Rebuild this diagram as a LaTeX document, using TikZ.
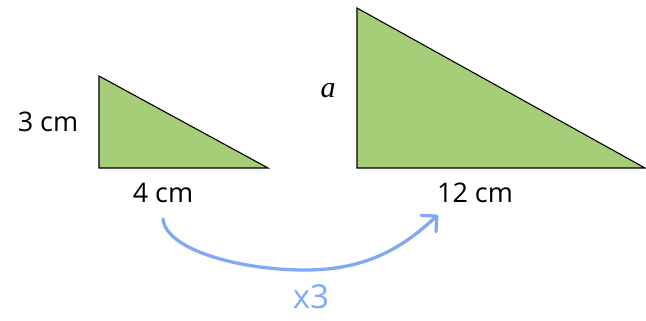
\documentclass[tikz,border=0pt]{standalone}
\usepackage{fontspec}
\setmainfont{Open Sans}
\newfontfamily\varfont{Liberation Serif}
\usepackage{xcolor}
\usepackage{tikz}
\usetikzlibrary{arrows.meta,calc,positioning}
\definecolor{trigreen}{HTML}{A6CD78}
\definecolor{penblue}{HTML}{7FA9F7}

\begin{document}
\begin{tikzpicture}[x=1pt, y=-1pt,
    tri/.style={draw=black, fill=trigreen, line width=1.1pt, line join=miter},
    lbl/.style={font=\fontsize{27}{30}\selectfont, inner sep=0pt},
    pen/.style={draw=penblue, line width=3.3pt, line cap=round,
      -{Straight Barb[length=11pt,width=22pt,line width=3.3pt,round]}}]
\useasboundingbox (0,0) rectangle (646,321);
% small triangle
\coordinate (sTop) at (99,76);
\coordinate (sBL) at (99,168);
\coordinate (sBR) at (268,168);
\draw[tri] (sTop) -- (sBL) -- (sBR) -- cycle;
% large triangle
\coordinate (bTop) at (357,8);
\coordinate (bBL) at (357,168);
\coordinate (bBR) at (645,168);
\draw[tri] (bTop) -- (bBL) -- (bBR) -- cycle;
% side labels
\node[lbl] (sh) at (48,122) {3 cm};
\node[lbl] (sw) at (163,193) {4 cm};
\node[lbl, font=\varfont\itshape\fontsize{30}{32}\selectfont] (bh) at (328,91) {a};
\node[lbl] (bw) at (475,193) {12 cm};
% scale arrow
\coordinate (aStart) at (163,219);
\coordinate (aMid) at (305,270);
\coordinate (aEnd) at (438,215);
\draw[pen] (aStart) .. controls (166,250) and (240,270) .. (aMid)
  .. controls (370,270) and (405,245) .. (aEnd);
\node[font=\fontsize{33}{36}\selectfont, text=penblue, inner sep=0pt] (fac) at (311,297) {x3};
\end{tikzpicture}
\end{document}
